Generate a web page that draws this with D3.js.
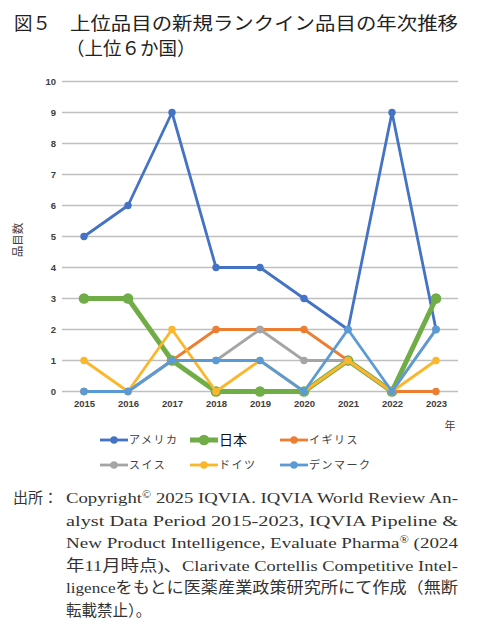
<!DOCTYPE html>
<html><head><meta charset="utf-8">
<script src="https://cdn.jsdelivr.net/npm/d3@7"></script>
<style>body{margin:0;background:#fff}svg{display:block}</style>
</head><body><svg id="c" width="500" height="631"></svg>
<script>
const years = ["2015","2016","2017","2018","2019","2020","2021","2022","2023"];
const america = [5,6,9,4,4,3,2,9,2];
const japan   = [3,3,1,0,0,0,1,0,3];
const uk      = [0,0,1,2,2,2,1,0,0];
const swiss   = [0,0,1,1,2,1,1,0,2];
const germany = [1,0,2,0,1,0,1,0,1];
const denmark = [0,0,1,1,1,0,2,0,2];
const seriesNames = ["アメリカ","日本","イギリス","スイス","ドイツ","デンマーク"];
const yTicks = [0,1,2,3,4,5,6,7,8,9,10];

const series = [
  {name:seriesNames[0], values:america, color:"#4472C4", w:2.8, r:3.7},
  {name:seriesNames[1], values:japan,   color:"#70AD47", w:5, r:5.3},
  {name:seriesNames[2], values:uk,      color:"#ED7D31", w:2.8, r:3.7},
  {name:seriesNames[3], values:swiss,   color:"#A5A5A5", w:2.8, r:3.7},
  {name:seriesNames[4], values:germany, color:"#FBB62B", w:2.8, r:3.7},
  {name:seriesNames[5], values:denmark, color:"#5B9BD5", w:2.8, r:3.7}
];

const svg = d3.select("#c");
const JP = "'Noto Sans CJK JP','Noto Sans',sans-serif";
const SERIF = "'Liberation Serif','DejaVu Serif','Noto Sans CJK JP',serif";

// Title
svg.append("text").attr("x",14).attr("y",30).attr("font-family",JP).attr("font-size",18.5)
  .attr("fill","#222").text("図５");
svg.append("text").attr("x",70).attr("y",30).attr("font-family",JP).attr("font-size",18.5)
  .attr("fill","#222").attr("textLength",388).attr("lengthAdjust","spacingAndGlyphs")
  .text("上位品目の新規ランクイン品目の年次推移");
svg.append("text").attr("x",66).attr("y",55).attr("font-family",JP).attr("font-size",18.5)
  .attr("fill","#222").text("（上位６か国）");

const x = d3.scalePoint().domain(years).range([62,458]).padding(0.5);
const y = d3.scaleLinear().domain([0,10]).range([391.5,81.5]);

// gridlines
svg.append("g").selectAll("line").data(yTicks).join("line")
  .attr("x1",62).attr("x2",458).attr("y1",d=>y(d)).attr("y2",d=>y(d))
  .attr("stroke","#bfbfbf").attr("stroke-width",1.3);

// y axis
const yAxis = svg.append("g").attr("transform","translate(56,0)")
  .call(d3.axisLeft(y).tickValues(yTicks).tickSize(0).tickPadding(0));
yAxis.select(".domain").remove();
yAxis.selectAll("text").attr("font-family","'Liberation Sans',Arial,sans-serif").attr("font-size",9.5)
  .attr("font-weight","bold").attr("fill","#404040");

// x axis
const xAxis = svg.append("g").attr("transform","translate(0,398)")
  .call(d3.axisBottom(x).tickSize(0).tickPadding(0));
xAxis.select(".domain").remove();
xAxis.selectAll("text").attr("font-family","'Liberation Sans',Arial,sans-serif").attr("font-size",9.5)
  .attr("font-weight","bold").attr("fill","#404040").attr("dy","0.9em");

// axis titles
svg.append("text").attr("transform","translate(22,240) rotate(-90)").attr("text-anchor","middle")
  .attr("font-family",JP).attr("font-size",11.5).attr("fill","#404040").text("品目数");
svg.append("text").attr("x",450).attr("y",430).attr("text-anchor","middle")
  .attr("font-family",JP).attr("font-size",11).attr("fill","#404040").text("年");

// lines
const line = d3.line().x((d,i)=>x(years[i])).y(d=>y(d));
series.forEach(s=>{
  const g = svg.append("g");
  g.append("path").attr("d",line(s.values)).attr("fill","none").attr("stroke",s.color)
    .attr("stroke-width",s.w).attr("stroke-linejoin","round");
  g.selectAll("circle").data(s.values).join("circle")
    .attr("cx",(d,i)=>x(years[i])).attr("cy",d=>y(d)).attr("r",s.r).attr("fill",s.color);
});

// legend
const legPos = [[100,440],[190,440],[280,440],[100,465],[190,465],[280,465]];
series.forEach((s,i)=>{
  const [lx,ly] = legPos[i];
  const g = svg.append("g").attr("transform",`translate(${lx},${ly})`);
  g.append("line").attr("x1",0).attr("x2",28).attr("y1",0).attr("y2",0)
    .attr("stroke",s.color).attr("stroke-width",s.w);
  g.append("circle").attr("cx",14).attr("cy",0).attr("r",s.r).attr("fill",s.color);
  const big = i===1;
  g.append("text").attr("x",29).attr("y",big?5:4).attr("font-family",JP)
    .attr("font-size",big?14:11).attr("fill",big?"#111":"#404040")
    .attr("letter-spacing",big?0:1.5).text(s.name);
});

// source note
svg.append("text").attr("x",13).attr("y",503).attr("font-family",JP).attr("font-size",15)
  .attr("fill","#333").text("出所：");
const noteLines = [
  ["Copyright", "© 2025 IQVIA. IQVIA World Review An-"],
  ["alyst Data Period 2015-2023, IQVIA Pipeline &"],
  ["New Product Intelligence, Evaluate Pharma", "® (2024"],
  ["年11月時点)、Clarivate Cortellis Competitive Intel-"],
  ["ligenceをもとに医薬産業政策研究所にて作成（無断"],
  ["転載禁止）。"]
];
noteLines.forEach((ln,i)=>{
  const t = svg.append("text").attr("x",66).attr("y",503+i*22.6).attr("font-family",SERIF)
    .attr("font-size",15.5).attr("fill","#333");
  if (i<5) t.attr("textLength",392).attr("lengthAdjust","spacingAndGlyphs");
  if (ln.length===2){
    t.append("tspan").text(ln[0]);
    const rest = ln[1];
    t.append("tspan").attr("font-size",10).attr("dy",-5).text(rest[0]);
    t.append("tspan").attr("dy",5).text(rest.slice(1));
  } else t.text(ln[0]);
});
</script></body></html>
